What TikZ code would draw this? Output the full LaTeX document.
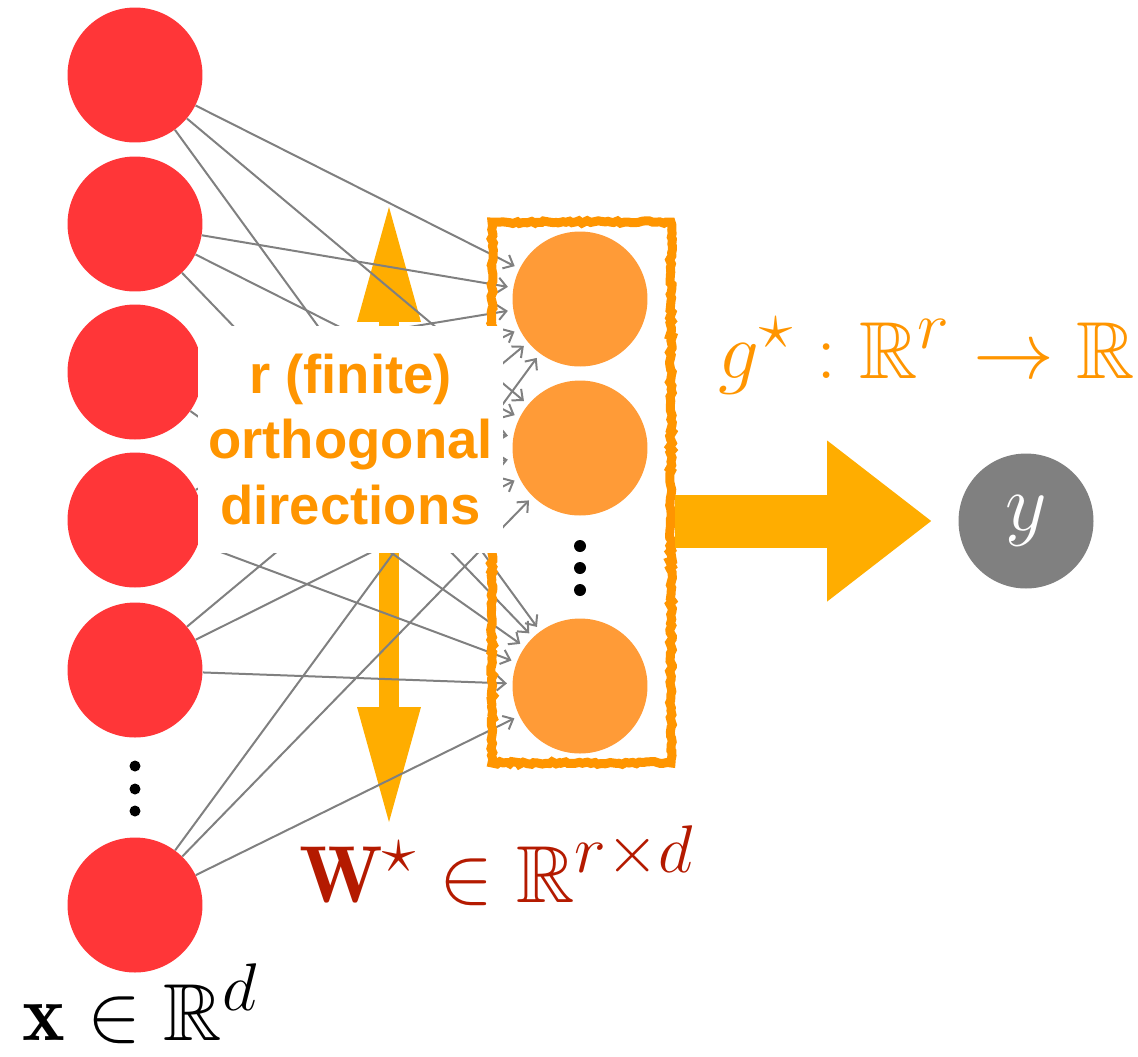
\documentclass[tikz,border=0pt]{standalone}
\usepackage{amssymb}
\usepackage{fontspec}
\setsansfont{Liberation Sans}
\usetikzlibrary{arrows.meta,positioning,calc,decorations.pathmorphing}

\definecolor{inred}{RGB}{255,54,56}
\definecolor{hidorange}{RGB}{255,155,55}
\definecolor{boxorange}{RGB}{255,149,0}
\definecolor{arrowyellow}{RGB}{255,173,0}
\definecolor{wred}{RGB}{180,26,0}
\definecolor{edgegray}{RGB}{128,128,128}

\begin{document}
\begin{tikzpicture}[x=0.02cm, y=-0.02cm,
    neuron/.style={circle, minimum size=2.7cm, inner sep=0pt},
    input/.style={neuron, fill=inred},
    hidden/.style={neuron, fill=hidorange},
    output/.style={neuron, fill=edgegray, text=white, font=\Huge},
    edge/.style={draw=edgegray, line width=0.04cm, -{Straight Barb[length=0.17cm,width=0.3cm]}, shorten >=3pt},
    sketch/.style={draw=boxorange, line width=0.18cm, decorate, decoration={random steps, segment length=2pt, amplitude=0.8pt}},
    bigmath/.style={font=\Huge, scale=1.85, inner sep=0pt},
    thinarrow/.style={draw=arrowyellow, line width=0.4cm, {Triangle[length=2.3cm,width=1.28cm,line width=0pt]}-{Triangle[length=2.3cm,width=1.28cm,line width=0pt]}},
    fatarrow/.style={draw=arrowyellow, line width=1.06cm, -{Triangle[length=2.08cm,width=3.22cm,line width=0pt]}, shorten >=0.54cm}]

    \useasboundingbox (0,0) rectangle (1138,1056);

    % input layer
    \node[input] (in1) at (135,75) {};
    \node[input] (in2) at (135,224) {};
    \node[input] (in3) at (135,372) {};
    \node[input] (in4) at (135,520) {};
    \node[input] (in5) at (135,670) {};
    \node[input] (in6) at (135,905) {};
    \foreach \y in {766,789,811}
        \fill (135,\y) circle (0.11cm);

    % hidden layer
    \node[hidden] (hid1) at (580,299) {};
    \node[hidden] (hid2) at (580,448) {};
    \node[hidden] (hid3) at (580,686) {};
    \foreach \y in {546,568,590}
        \fill (580,\y) circle (0.12cm);

    % output
    \node[output] (out) at (1026,521) {\scalebox{1.85}{$y$}};

    % directions arrow (behind the weights)
    \coordinate (dirtop) at (389,207);
    \coordinate (dirbot) at (389,822);
    \draw[thinarrow] (dirtop) -- (dirbot);

    % fully connected weights
    \foreach \a in {1,...,6}
        \foreach \b in {1,2,3}
            \draw[edge] (in\a) -- (hid\b);

    % box round the hidden layer
    \node[sketch, minimum width=3.58cm, minimum height=10.82cm, inner sep=0pt] (box) at (581.5,492.5) {};

    % link function
    \draw[fatarrow] (box.east |- out) -- (out);

    % label over the weights
    \node[fill=white, minimum width=6.1cm, minimum height=4.54cm, align=center, text=boxorange,
          font=\sffamily\bfseries\fontsize{31}{37.5}\selectfont] (dirs) at (350.5,439.5)
        {r (finite)\\orthogonal\\directions};

    \node[bigmath, text=boxorange, anchor=base] (gmap) at (927,378) {$g^{\star} : \mathbb{R}^r \to \mathbb{R}$};
    \node[bigmath, text=wred, anchor=base] (wmat) at (497,902) {$\mathbf{W}^{\star} \in \mathbb{R}^{r\times d}$};
    \node[bigmath, anchor=base] (xvec) at (140,1040) {$\mathbf{x} \in \mathbb{R}^{d}$};

\end{tikzpicture}
\end{document}
